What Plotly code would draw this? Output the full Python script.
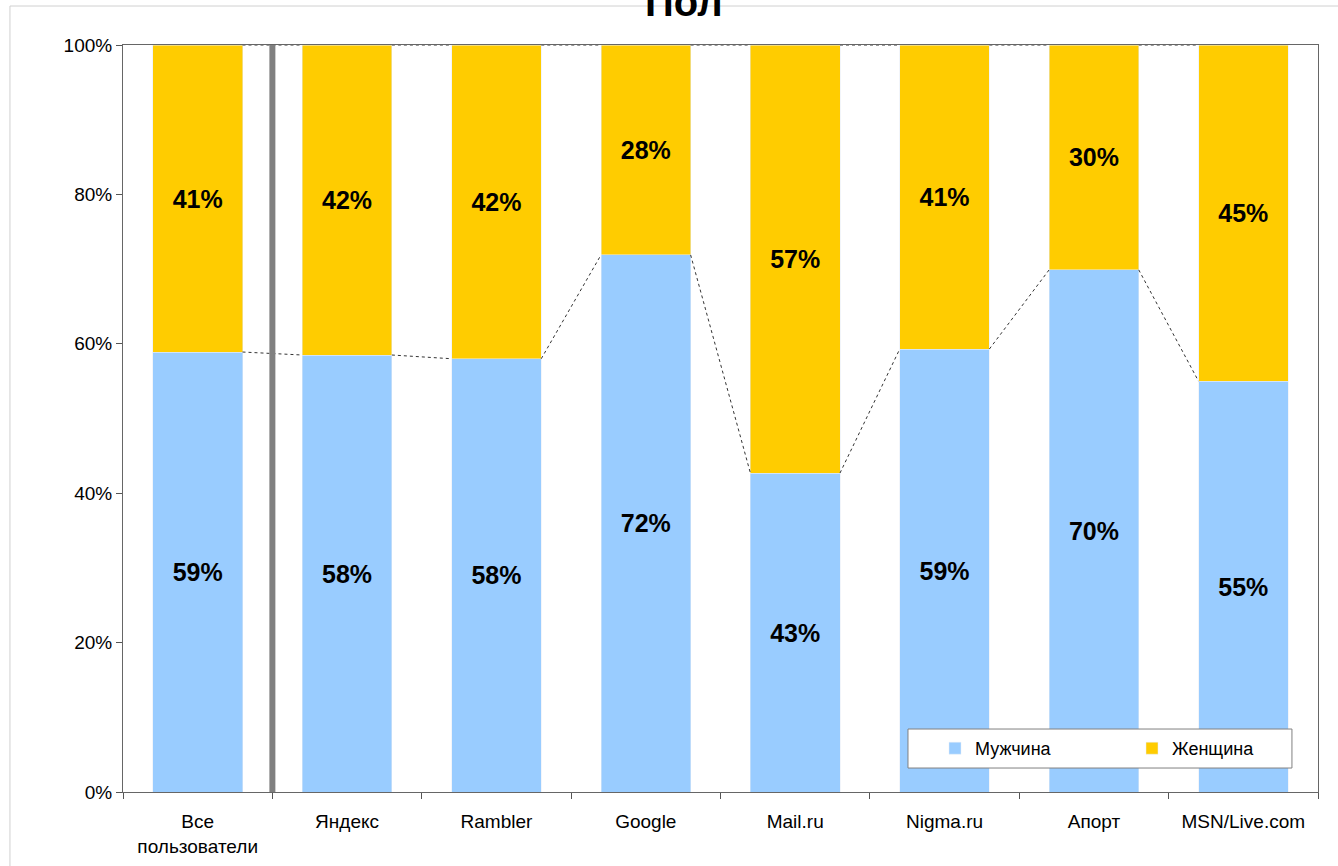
import plotly.graph_objects as go

categories = ["Все<br>пользователи", "Яндекс", "Rambler", "Google", "Mail.ru", "Nigma.ru", "Апорт", "MSN/Live.com"]
men = [58.9, 58.5, 58.0, 71.9, 42.7, 59.3, 69.9, 55.0]
women = [41.1, 41.5, 42.0, 28.1, 57.3, 40.7, 30.1, 45.0]
men_labels = ["59%", "58%", "58%", "72%", "43%", "59%", "70%", "55%"]
women_labels = ["41%", "42%", "42%", "28%", "57%", "41%", "30%", "45%"]
y_ticks = [0, 20, 40, 60, 80, 100]
y_tick_labels = ["0%", "20%", "40%", "60%", "80%", "100%"]

BLUE = "#99CCFF"
YELLOW = "#FFCC00"
BAR_W = 0.6

fig = go.Figure()
for vals, labels, name, color in ((men, men_labels, "Мужчина", BLUE), (women, women_labels, "Женщина", YELLOW)):
    fig.add_trace(go.Bar(x=categories, y=vals, name=name, marker_color=color,
                         text=labels, texttemplate="<b>%{text}</b>",
                         textposition="inside", insidetextanchor="middle",
                         textangle=0, textfont=dict(size=25, color="black", family="Arial"),
                         width=BAR_W))

# series lines (dotted connectors)
n = len(categories)
tops = [m + w for m, w in zip(men, women)]
for i in range(n - 1):
    for series in (men, tops):
        fig.add_trace(go.Scatter(x=[i + BAR_W / 2, i + 1 - BAR_W / 2], y=[series[i], series[i + 1]],
                                 xaxis="x2", mode="lines", showlegend=False, hoverinfo="skip",
                                 line=dict(color="#333333", width=1, dash="dot")))

# thick separator after "all users"
fig.add_trace(go.Scatter(x=[0.5, 0.5], y=[0, 100], xaxis="x2", mode="lines", showlegend=False,
                         hoverinfo="skip", line=dict(color="#808080", width=6)))

fig.update_layout(
    barmode="stack",
    width=1338, height=866,
    margin=dict(l=123, r=20, t=45, b=74, autoexpand=False),
    paper_bgcolor="white", plot_bgcolor="white",
    font=dict(family="Arial, Liberation Sans", size=19, color="black"),
    xaxis=dict(type="category", tickson="boundaries", ticks="outside", ticklen=6,
               tickcolor="#555555", showline=True, linecolor="#666666", mirror=True,
               showgrid=False, range=[-0.5, n - 0.5], tickfont=dict(size=19),
               ticklabelstandoff=12),
    xaxis2=dict(overlaying="x", range=[-0.5, n - 0.5], visible=False),
    yaxis=dict(range=[0, 100], tickvals=y_ticks, ticktext=y_tick_labels, ticks="outside",
               ticklen=6, tickcolor="#555555", showline=True, linecolor="#666666", mirror=True,
               showgrid=False, zeroline=False, tickfont=dict(size=19)),
    legend=dict(orientation="h", x=0.6795, y=0.0582, xanchor="left", yanchor="middle",
                borderwidth=0, bgcolor="rgba(0,0,0,0)",
                entrywidth=152, font=dict(size=18), traceorder="normal"),
    showlegend=True,
)

# legend frame
fig.add_shape(type="rect", xref="paper", yref="paper", x0=0.6569, y0=0.0321, x1=0.9782, y1=0.0843,
              line=dict(color="#808080", width=1), fillcolor="white", layer="above")

fig.add_annotation(text="<b>Пол</b>", xref="paper", yref="paper", x=0.4695, y=1.025,
                   xanchor="center", yanchor="bottom", showarrow=False,
                   font=dict(size=40, family="Arial", color="black"))

fig.add_shape(type="rect", xref="paper", yref="paper", x0=-0.0946, y0=-0.2, x1=1.2, y1=1.0522,
              line=dict(color="#d0d0d0", width=1), fillcolor="rgba(0,0,0,0)", layer="below")

fig.write_html("out.html")
